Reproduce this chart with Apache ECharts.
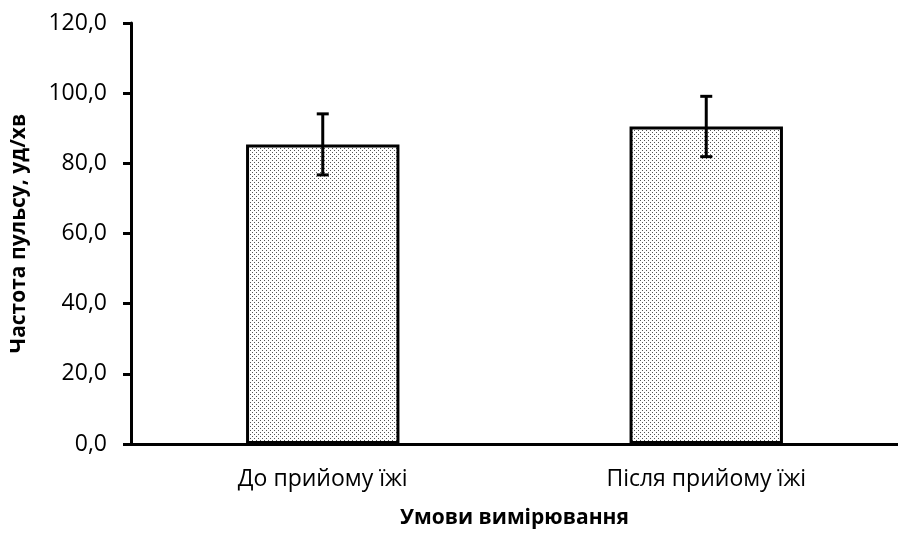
<!DOCTYPE html>
<html>
<head>
<meta charset="utf-8">
<script src="https://cdn.jsdelivr.net/npm/echarts@6/dist/echarts.min.js"></script>
<style>
  html, body { margin: 0; padding: 0; background: #fff; }
  #chart { width: 898px; height: 534px; }
</style>
</head>
<body>
<div id="chart"></div>
<script>
const categories = ['До прийому їжі', 'Після прийому їжі']
const pulseMean = [85.4, 90.5]
const pulseErr = [8.7, 8.6]
const yTicks = [0, 20, 40, 60, 80, 100, 120]

const fontFamily = "'Open Sans', 'Noto Sans', sans-serif"

// dotted fill like the original office pattern
function dotPattern() {
  const c = document.createElement('canvas')
  c.width = 4
  c.height = 4
  const ctx = c.getContext('2d')
  ctx.fillStyle = '#fff'
  ctx.fillRect(0, 0, 4, 4)
  ctx.fillStyle = '#555'
  ctx.fillRect(0, 0, 1, 1)
  ctx.fillRect(2, 2, 1, 1)
  return c
}

const errData = categories.map((c, i) => [i, pulseMean[i] - pulseErr[i], pulseMean[i] + pulseErr[i]])

const chart = echarts.init(document.getElementById('chart'))
chart.setOption({
  animation: false,
  grid: { left: 131, right: -6, top: 23, bottom: 89 },
  xAxis: {
    type: 'category',
    data: categories,
    name: 'Умови вимірювання',
    nameLocation: 'middle',
    nameGap: 64,
    nameTextStyle: { fontFamily: fontFamily, fontSize: 21, fontWeight: 'bold', color: '#000' },
    axisLine: { lineStyle: { color: '#000', width: 3 } },
    axisTick: { length: 7, lineStyle: { color: '#000', width: 3 } },
    axisLabel: { fontFamily: fontFamily, fontSize: 23, color: '#000', margin: 24 }
  },
  yAxis: {
    type: 'value',
    min: yTicks[0],
    max: yTicks[yTicks.length - 1],
    interval: 20,
    name: 'Частота пульсу, уд/хв',
    nameLocation: 'middle',
    nameGap: 101,
    nameTextStyle: { fontFamily: fontFamily, fontSize: 21, fontWeight: 'bold', color: '#000' },
    axisLine: { show: true, lineStyle: { color: '#000', width: 3 } },
    axisTick: { show: true, length: 8, lineStyle: { color: '#000', width: 3 } },
    axisLabel: {
      fontFamily: fontFamily, fontSize: 23, color: '#000', margin: 24,
      formatter: v => v.toFixed(1).replace('.', ',')
    },
    splitLine: { show: false }
  },
  series: [
    {
      type: 'bar',
      data: pulseMean,
      barWidth: '40%',
      itemStyle: {
        color: { image: dotPattern(), repeat: 'repeat' },
        borderColor: '#000',
        borderWidth: 3
      }
    },
    {
      type: 'custom',
      data: errData,
      z: 10,
      renderItem: function (params, api) {
        const top = api.coord([api.value(0), api.value(2)])
        const bottom = api.coord([api.value(0), api.value(1)])
        const half = 6
        const style = { stroke: '#000', lineWidth: 3 }
        return {
          type: 'group',
          children: [
            { type: 'line', shape: { x1: top[0], y1: top[1], x2: bottom[0], y2: bottom[1] }, style: style },
            { type: 'line', shape: { x1: top[0] - half, y1: top[1], x2: top[0] + half, y2: top[1] }, style: style },
            { type: 'line', shape: { x1: bottom[0] - half, y1: bottom[1], x2: bottom[0] + half, y2: bottom[1] }, style: style }
          ]
        }
      }
    }
  ]
})
</script>
</body>
</html>
